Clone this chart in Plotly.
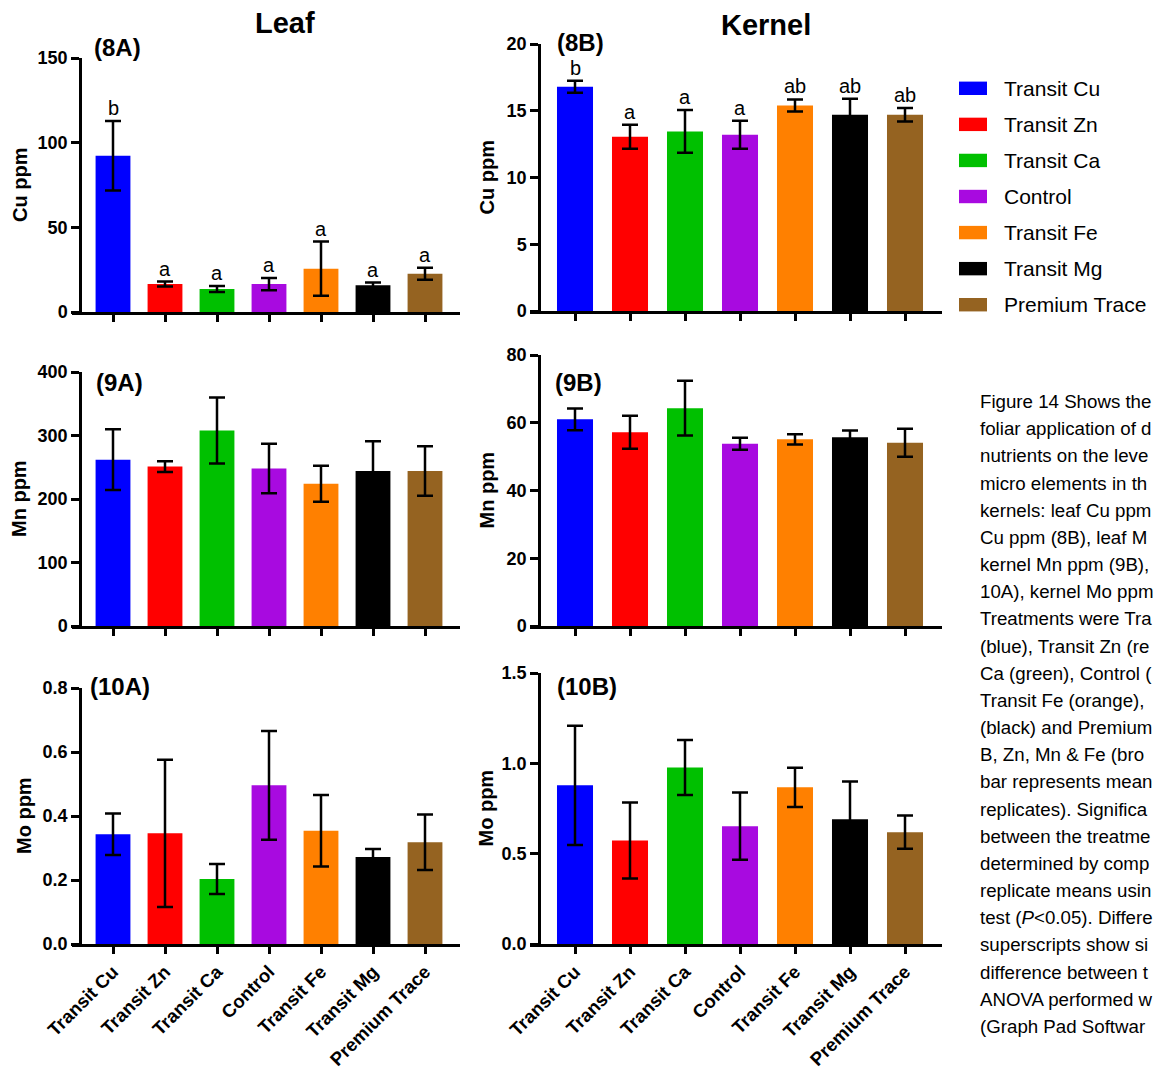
import plotly.graph_objects as go

# ---------------- data ----------------
treatments = ["Transit Cu", "Transit Zn", "Transit Ca", "Control",
              "Transit Fe", "Transit Mg", "Premium Trace"]
colors = ["#0000FF", "#FF0000", "#00C000", "#A80AE0",
          "#FF8000", "#000000", "#956321"]

leaf_cu = [92.3, 16.5, 13.6, 16.5, 25.6, 15.8, 22.6]
leaf_cu_err = [20.5, 1.5, 1.8, 3.6, 16.0, 1.6, 3.5]
leaf_cu_letters = ["b", "a", "a", "a", "a", "a", "a"]

kernel_cu = [16.8, 13.05, 13.45, 13.2, 15.4, 14.7, 14.7]
kernel_cu_err = [0.45, 0.9, 1.6, 1.05, 0.45, 1.2, 0.5]
kernel_cu_letters = ["b", "a", "a", "a", "ab", "ab", "ab"]

leaf_mn = [262, 251, 308, 248, 224, 244, 244]
leaf_mn_err = [48, 8.5, 52, 39, 28.5, 47, 39]

kernel_mn = [61.0, 57.2, 64.3, 53.8, 55.1, 55.7, 54.1]
kernel_mn_err = [3.2, 4.9, 8.1, 1.75, 1.5, 2.0, 4.1]

leaf_mo = [0.343, 0.346, 0.203, 0.496, 0.354, 0.272, 0.318]
leaf_mo_err = [0.065, 0.23, 0.047, 0.17, 0.112, 0.025, 0.087]

kernel_mo = [0.878, 0.573, 0.977, 0.652, 0.867, 0.690, 0.619]
kernel_mo_err = [0.33, 0.21, 0.152, 0.186, 0.109, 0.209, 0.092]

column_titles = ["Leaf", "Kernel"]
panel_labels = ["(8A)", "(8B)", "(9A)", "(9B)", "(10A)", "(10B)"]
y_titles = ["Cu ppm", "Cu ppm", "Mn ppm", "Mn ppm", "Mo ppm", "Mo ppm"]
y_max = [150, 20, 400, 80, 0.8, 1.5]
y_dtick = [50, 5, 100, 20, 0.2, 0.5]

# caption text as visible in the (cropped) figure
caption_lines = [
    "Figure 14 Shows the",
    "foliar application of d",
    "nutrients on the leve",
    "micro elements in th",
    "kernels: leaf Cu ppm",
    "Cu ppm (8B), leaf M",
    "kernel Mn ppm (9B),",
    "10A), kernel Mo ppm",
    "Treatments were Tra",
    "(blue), Transit Zn (re",
    "Ca (green), Control (",
    "Transit Fe (orange),",
    "(black) and Premium",
    "B, Zn, Mn & Fe (bro",
    "bar represents mean",
    "replicates). Significa",
    "between the treatme",
    "determined by comp",
    "replicate means usin",
    "test (<i>P</i><0.05). Differe",
    "superscripts show si",
    "difference between t",
    "ANOVA performed w",
    "(Graph Pad Softwar",
]

values = [leaf_cu, kernel_cu, leaf_mn, kernel_mn, leaf_mo, kernel_mo]
errors = [leaf_cu_err, kernel_cu_err, leaf_mn_err, kernel_mn_err, leaf_mo_err, kernel_mo_err]
letters = [leaf_cu_letters, kernel_cu_letters, None, None, None, None]

# ---------------- layout geometry (pixels) ----------------
W, H = 1154, 1070
FONT = "Liberation Sans, Arial, sans-serif"


def fx(px):
    return px / W


def fy(py):
    return 1 - py / H


cols = [
    dict(x0=72, x1=460, yline=80, cat0=113, step=52, ytitle_x=[20, 19, 24]),
    dict(x0=530, x1=942, yline=539, cat0=575, step=55, ytitle_x=[486, 486, 485]),
]
rows = [
    [(58, 312), (44, 311)],
    [(372, 626), (355, 626)],
    [(688, 944), (673, 944)],
]
label_pos = [(117, 48), (580, 42), (119, 382), (578, 382), (120, 686), (587, 686)]

fig = go.Figure()
annotations = []
layout = {}

for i in range(6):
    r, c = divmod(i, 2)
    col = cols[c]
    top, bot = rows[r][c]
    n = i + 1
    xa = "x" if n == 1 else f"x{n}"
    ya = "y" if n == 1 else f"y{n}"

    fig.add_trace(go.Bar(
        x=treatments, y=values[i],
        marker=dict(color=colors, line=dict(width=0)),
        width=0.67 if c == 0 else 0.655,
        error_y=dict(type="data", array=errors[i], color="black",
                     thickness=2.5, width=8),
        xaxis=xa, yaxis=ya, showlegend=False,
    ))

    xr = [(col["x0"] - col["cat0"]) / col["step"], (col["x1"] - col["cat0"]) / col["step"]]
    layout[f"xaxis{n}"] = dict(
        domain=[fx(col["x0"]), fx(col["x1"])],
        anchor=ya, type="category", range=xr, automargin=False,
        showline=True, linecolor="black", linewidth=2.5,
        ticks="outside", ticklen=7, tickwidth=2.5, tickcolor="black",
        showgrid=False, zeroline=False,
        showticklabels=(r == 2), tickangle=-45,
        tickfont=dict(family=FONT, size=18.5, color="black", weight="bold"),
    )
    layout[f"yaxis{n}"] = dict(
        domain=[fy(bot), fy(top)],
        anchor="free", position=fx(col["yline"]), automargin=False,
        range=[0, y_max[i]], dtick=y_dtick[i], tick0=0,
        tickformat=".1f" if y_max[i] < 5 else "d",
        showline=True, linecolor="black", linewidth=2.5,
        ticks="outside", ticklen=8, tickwidth=2.5, tickcolor="black",
        showgrid=False, zeroline=False,
        tickfont=dict(family=FONT, size=18, color="black", weight="bold"),
    )

    # y-axis title
    annotations.append(dict(
        text=f"<b>{y_titles[i]}</b>", textangle=-90,
        x=fx(col["ytitle_x"][r]), y=fy((top + bot) / 2),
        xref="paper", yref="paper", xanchor="center", yanchor="middle",
        showarrow=False, font=dict(family=FONT, size=20, color="black"),
    ))
    # panel label
    lx, ly = label_pos[i]
    annotations.append(dict(
        text=f"<b>{panel_labels[i]}</b>", x=fx(lx), y=fy(ly),
        xref="paper", yref="paper", xanchor="center", yanchor="middle",
        showarrow=False, font=dict(family=FONT, size=24, color="black"),
    ))
    # significance letters
    if letters[i] is not None:
        for t, v, e, s in zip(treatments, values[i], errors[i], letters[i]):
            annotations.append(dict(
                text=s, x=t, y=v + e, xref=xa, yref=ya,
                xanchor="center", yanchor="bottom", yshift=0,
                showarrow=False, font=dict(family=FONT, size=20, color="black"),
            ))

# column titles
for txt, (tx, ty) in zip(column_titles, [(285, 23), (766, 25)]):
    annotations.append(dict(
        text=f"<b>{txt}</b>", x=fx(tx), y=fy(ty), xref="paper", yref="paper",
        xanchor="center", yanchor="middle", showarrow=False,
        font=dict(family=FONT, size=29, color="black"),
    ))

# custom legend
shapes = []
for k, (name, colr) in enumerate(zip(treatments, colors)):
    cy = 88.3 + 36.07 * k
    shapes.append(dict(type="rect", xref="paper", yref="paper",
                       x0=fx(959), x1=fx(987), y0=fy(cy + 6.7), y1=fy(cy - 6.7),
                       fillcolor=colr, line=dict(width=0)))
    annotations.append(dict(
        text=name, x=fx(1002), y=fy(cy), xref="paper", yref="paper",
        xanchor="left", yanchor="middle", showarrow=False,
        font=dict(family=FONT, size=21, color="black"),
    ))

# caption
for k, line in enumerate(caption_lines):
    annotations.append(dict(
        text=line, x=fx(978), y=fy(401.5 + 27.17 * k), xref="paper", yref="paper",
        xanchor="left", yanchor="middle", showarrow=False,
        font=dict(family=FONT, size=18.7, color="black"),
    ))

fig.update_layout(
    width=W, height=H,
    margin=dict(l=0, r=0, t=0, b=0, autoexpand=False),
    paper_bgcolor="white", plot_bgcolor="white",
    bargap=0.3,
    annotations=annotations, shapes=shapes,
    **layout,
)

fig.write_html("out.html")
